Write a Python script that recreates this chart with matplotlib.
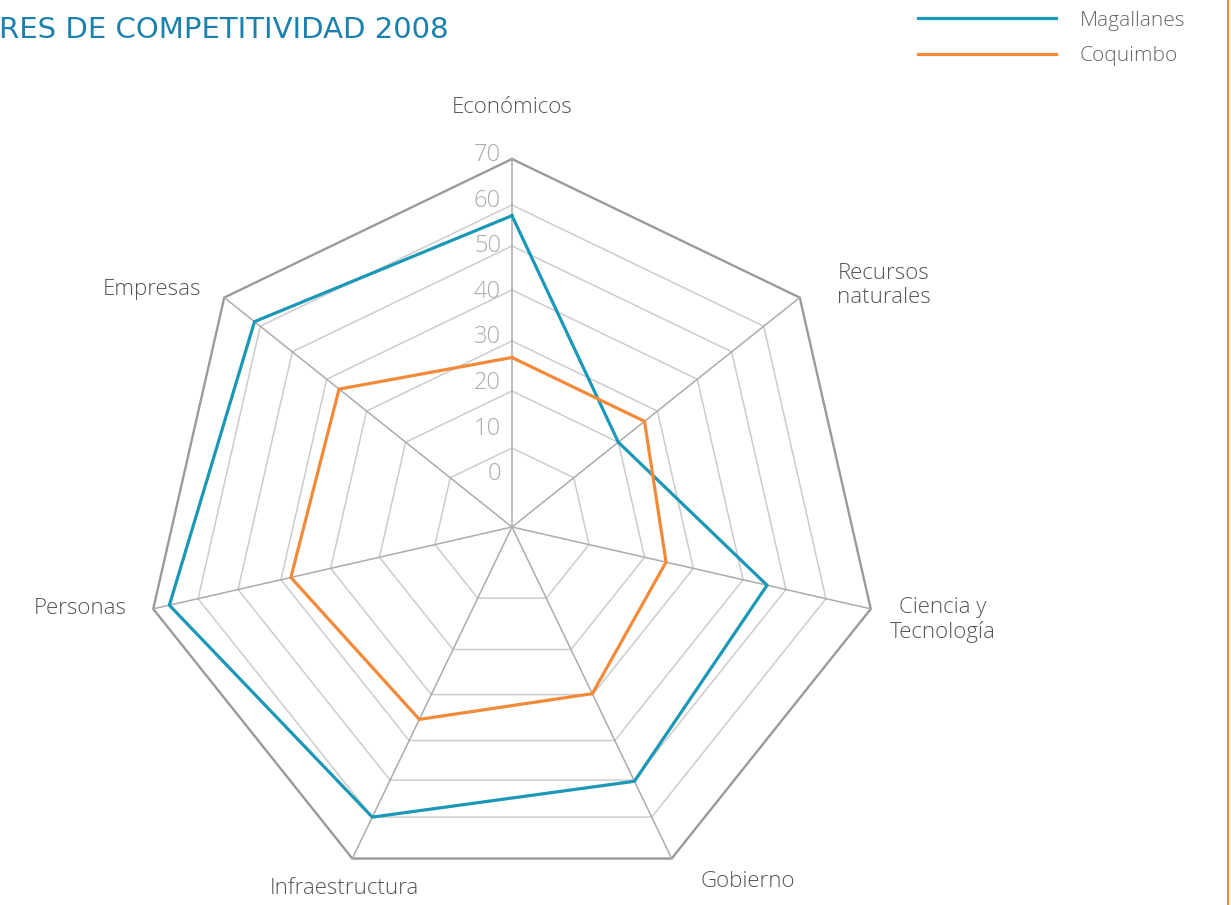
import numpy as np
import matplotlib.pyplot as plt
from matplotlib.lines import Line2D

categories = ['Económicos', 'Recursos\nnaturales', 'Ciencia y\nTecnología', 'Gobierno',
              'Infraestructura', 'Personas', 'Empresas']
magallanes = [57.4, 20.0, 45.6, 50.3, 60.0, 66.4, 61.6]
coquimbo = [26.7, 26.7, 24.4, 29.8, 35.4, 38.0, 36.9]
ticks = [0, 10, 20, 30, 40, 50, 60, 70]

# the printed chart spaces its rings unevenly, radius in px of each ring
ring_px = [0, 79, 136, 186, 237, 281, 322, 368]

BLUE = '#1b98b5'
ORANGE = '#f28a3a'
W, H = 1231, 905

plt.rcParams['font.family'] = ['Open Sans', 'DejaVu Sans']

fig = plt.figure(figsize=(W / 100, H / 100), dpi=100)
cx, cy, R = 512, 527, 368
ax = fig.add_axes([(cx - R) / W, (H - cy - R) / H, 2 * R / W, 2 * R / H], projection='polar')
ax.set_theta_zero_location('N')
ax.set_theta_direction(-1)
ax.set_rscale('function', functions=(lambda r: np.interp(r, ticks, ring_px),
                                     lambda p: np.interp(p, ring_px, ticks)))
ax.set_rlim(0, 70)
ax.set_axis_off()

angles = np.linspace(0, 2 * np.pi, len(categories), endpoint=False)
closed = np.r_[angles, angles[0]]

# polygon grid
for v in ticks[1:]:
    outer = v == ticks[-1]
    ax.plot(closed, [v] * len(closed), color='#9a9a9a' if outer else '#cccccc',
            lw=1.7 if outer else 1.1, clip_on=False, zorder=1)
for a in angles:
    ax.plot([a, a], [0, 70], color='#ababab', lw=1.1, clip_on=False, zorder=1)

l1, = ax.plot(closed, magallanes + magallanes[:1], color=BLUE, lw=2.3, clip_on=False, zorder=3)
l2, = ax.plot(closed, coquimbo + coquimbo[:1], color=ORANGE, lw=2.3, clip_on=False, zorder=3)

# category labels, offset in px from outer vertex
label_offsets = [(0, 52), (84, 12), (72, -11), (76, -23), (-8, -30), (-73, 0), (-72, 8)]
for a, name, off in zip(angles, categories, label_offsets):
    ax.annotate(name, xy=(a, 70), xytext=off, textcoords='offset pixels',
                ha='center', va='center', fontsize=16, color='#555555',
                fontweight='light', linespacing=1.2, annotation_clip=False)

# radial tick labels (spaced evenly in the original)
for v in ticks:
    y = 155 + (70 - v) * 4.56
    fig.text(501 / W, 1 - y / H, str(v), ha='right', va='center',
             fontsize=17, color='#ababab', fontweight='light')

fig.text(-0.001, 1 - 30 / H, 'RES DE COMPETITIVIDAD 2008', ha='left', va='center',
         fontsize=21, color='#1a80ad', family='DejaVu Sans')

fig.legend(handles=[l1, l2], labels=['Magallanes', 'Coquimbo'], loc='center left',
           bbox_to_anchor=(918 / W, 1 - 38.5 / H), frameon=False, handlelength=6.6,
           handletextpad=1.15, labelspacing=0.75, borderpad=0, borderaxespad=0,
           labelcolor='#666666', prop={'weight': 'light', 'size': 15})

fig.add_artist(Line2D([1228 / W, 1228 / W], [0, 1], color=ORANGE, lw=1.5,
                      transform=fig.transFigure))

fig.savefig('out.png', dpi=100)
